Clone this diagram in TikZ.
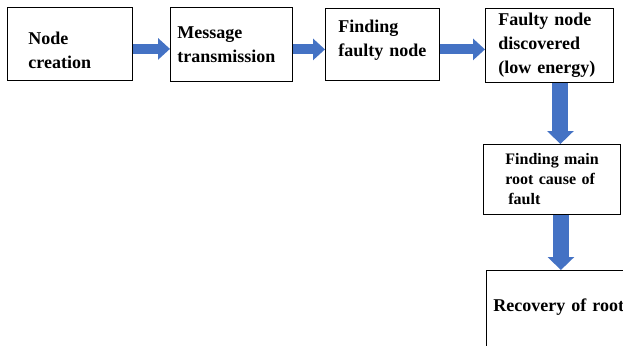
\documentclass[tikz,border=0pt]{standalone}
\usepackage{fontspec}
\setmainfont{Liberation Serif}
\usetikzlibrary{arrows.meta}
\definecolor{arrowblue}{RGB}{68,114,196}

\tikzset{
  box/.style={draw, line width=0.8pt, rectangle, anchor=north west, align=left, inner ysep=0pt,
    font=\bfseries\fontsize{18}{24}\selectfont},
  flow/.style={arrowblue, line width=10pt, -{Triangle[length=12pt,width=21pt]}},
  downflow/.style={arrowblue, line width=16pt, -{Triangle[length=13pt,width=26pt]}}
}

\begin{document}
\begin{tikzpicture}[x=1pt,y=-1pt]
\useasboundingbox (0,0) rectangle (623,345);
\clip (0,0) rectangle (623,345);
\node [box, inner xsep=21pt, text width=83pt, minimum height=73pt, text depth=12pt] (create) at (7,7) {Node\\creation};
\node [box, inner xsep=7pt, text width=108pt, minimum height=74pt] (transmit) at (170,7) {Message\\transmission};
\node [box, inner xsep=13pt, text width=88pt, minimum height=72pt, text depth=36pt] (finding) at (325,8) {Finding\\faulty~node};
\node [box, inner xsep=13pt, text width=102pt, minimum height=74pt] (discovered) at (485,8) {Faulty~node\\discovered\\(low~energy)};
\node [box, inner xsep=22pt, text width=93pt, minimum height=70pt, font=\bfseries\fontsize{16}{20}\selectfont] (rootcause) at (483,144) {Finding~main\\root~cause~of\\\hspace{3pt}fault};
\node [box, inner xsep=7pt, text width=170pt, minimum height=102pt, text height=12pt, text depth=32pt] (recovery) at (486,270) {Recovery~of~root};
% arrows between the steps
\draw [flow] ([yshift=-5pt]create.east) -- ([yshift=-5pt]create.east -| transmit.west);
\draw [flow] ([yshift=-5pt]transmit.east) -- ([yshift=-5pt]transmit.east -| finding.west);
\draw [flow] ([yshift=-5pt]finding.east) -- ([yshift=-5pt]finding.east -| discovered.west);
\draw [downflow] ([xshift=11pt]discovered.south) -- ([xshift=11pt]discovered.south |- rootcause.north);
\draw [downflow] ([xshift=9pt]rootcause.south) -- ([xshift=9pt]rootcause.south |- recovery.north);
\end{tikzpicture}
\end{document}
